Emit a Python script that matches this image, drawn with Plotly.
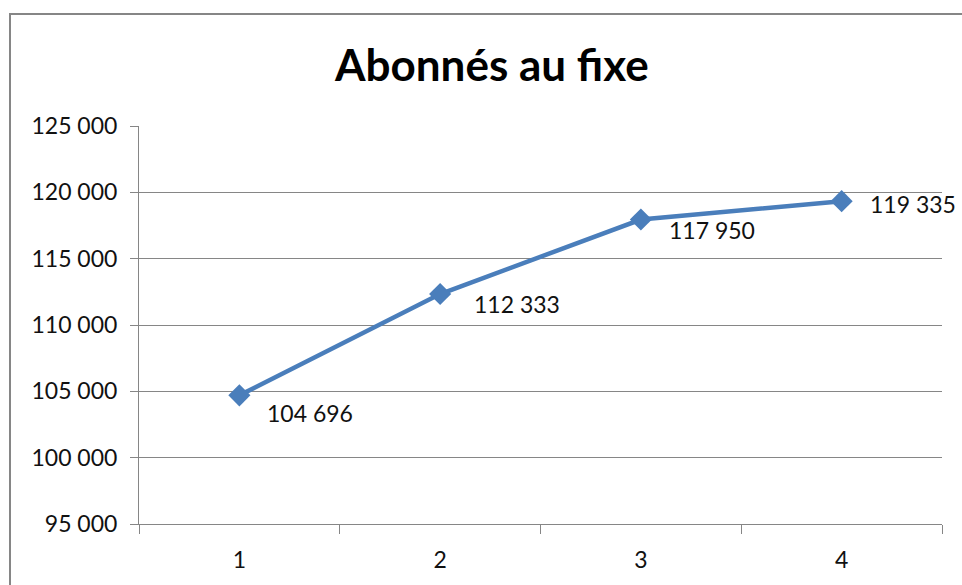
import plotly.graph_objects as go

# Données : nombre d'abonnés au fixe par période
periodes = ["1", "2", "3", "4"]
abonnes = [104696, 112333, 117950, 119335]

# Décalage (px) de chaque étiquette de valeur par rapport à son point
decalage_x = [26, 32, 26, 26]
decalage_y = [18, 10, 10, 3]

y_min, y_max, y_pas = 95000, 125000, 5000

BLEU = "#4A7EBB"
GRIS = "#868686"
POLICE = "Lato"

W, H = 962, 585
M_L, M_R, M_T, M_B = 139, 20, 126, 61
larg = W - M_L - M_R
haut = H - M_T - M_B


def px_x(px):
    return (px - M_L) / larg


def px_y(py):
    return 1 + (M_T - py) / haut


def fmt(v):
    return f"{v:,}".replace(",", " ")


fig = go.Figure()
fig.add_trace(go.Scatter(
    x=periodes, y=abonnes, mode="lines+markers",
    line=dict(color=BLEU, width=4.5),
    marker=dict(symbol="diamond", size=17, color=BLEU),
    hoverinfo="skip", showlegend=False,
))

# Étiquettes de valeur (position d'index sur l'axe de catégories)
for i, (v, dx, dy) in enumerate(zip(abonnes, decalage_x, decalage_y)):
    fig.add_annotation(
        x=i, y=v, xref="x", yref="y", text=fmt(v), showarrow=False,
        xanchor="left", yanchor="middle", xshift=dx, yshift=-dy,
        font=dict(family=POLICE, size=23, color="#111111"),
    )

# Titre centré sur l'ensemble du graphique
fig.add_annotation(
    x=px_x(491), y=px_y(64), xref="paper", yref="paper",
    text="<b>Abonnés au fixe</b>", showarrow=False,
    xanchor="center", yanchor="middle",
    font=dict(family=POLICE, size=44, color="#000000"),
)

# Cadre de la zone de graphique
fig.add_shape(
    type="rect", xref="paper", yref="paper",
    x0=px_x(10), x1=px_x(990), y0=px_y(620), y1=px_y(14),
    line=dict(color=GRIS, width=2), fillcolor="rgba(0,0,0,0)", layer="below",
)

fig.update_xaxes(
    type="category", range=[-0.5, 3.5],
    tickson="boundaries", ticks="outside", ticklen=9, tickcolor=GRIS,
    showgrid=False, showline=True, linecolor=GRIS, linewidth=1,
    ticklabelstandoff=15,
    tickfont=dict(family=POLICE, size=23, color="#111111"),
    fixedrange=True,
)
fig.update_yaxes(
    range=[y_min, y_max], dtick=y_pas, tick0=y_min, tickformat=",d",
    ticks="outside", ticklen=8, tickcolor=GRIS,
    showgrid=True, gridcolor=GRIS, gridwidth=1,
    showline=True, linecolor=GRIS, linewidth=1,
    zeroline=False, ticklabelstandoff=8,
    tickfont=dict(family=POLICE, size=23, color="#111111"),
    fixedrange=True,
)

fig.update_layout(
    width=W, height=H,
    margin=dict(l=M_L, r=M_R, t=M_T, b=M_B),
    paper_bgcolor="white", plot_bgcolor="white",
    separators=", ",
    showlegend=False,
)

fig.write_html("out.html", config={"displayModeBar": False})
